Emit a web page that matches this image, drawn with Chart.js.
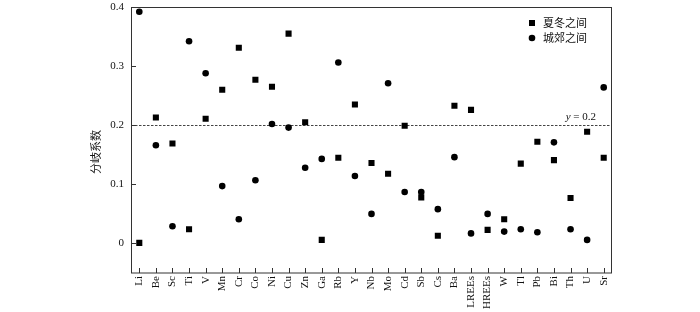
<!DOCTYPE html>
<html><head><meta charset="utf-8">
<script src="https://cdn.jsdelivr.net/npm/chart.js@4/dist/chart.umd.min.js"></script>
<style>html,body{margin:0;padding:0;background:#fff}canvas{display:block}</style>
</head><body>
<canvas id="c" width="700" height="312"></canvas>
<script>
const categories = ['Li','Be','Sc','Ti','V','Mn','Cr','Co','Ni','Cu','Zn','Ga','Rb','Y','Nb','Mo','Cd','Sb','Cs','Ba','LREEs','HREEs','W','Tl','Pb','Bi','Th','U','Sr'];
const summerWinter = [0.001,0.213,0.169,0.024,0.211,0.260,0.331,0.277,0.265,0.355,0.205,0.006,0.145,0.235,0.136,0.118,0.199,0.078,0.013,0.233,0.226,0.023,0.041,0.135,0.172,0.141,0.077,0.189,0.145];
const urbanSuburban = [0.392,0.166,0.029,0.342,0.288,0.097,0.041,0.107,0.202,0.196,0.128,0.143,0.306,0.114,0.050,0.271,0.087,0.087,0.058,0.146,0.017,0.050,0.020,0.024,0.019,0.171,0.024,0.006,0.264];
const yTicks = [0, 0.1, 0.2, 0.3, 0.4];
const refValue = 0.2;
const seriesNames = ['夏冬之间', '城郊之间'];
const yTitle = '分岐系数';

const serif = '"Liberation Serif", "DejaVu Serif", serif';
const cjk = '"Noto Sans CJK SC", sans-serif';
const ink = '#111';
const frame = '#333';

const decor = {
  id: 'decor',
  beforeDatasetsDraw(chart) {
    const {ctx, chartArea: a, scales: {x, y}} = chart;
    ctx.save();
    const py = Math.round(y.getPixelForValue(refValue)) + 0.5;
    ctx.strokeStyle = '#444';
    ctx.lineWidth = 1;
    ctx.setLineDash([2.5, 1.5]);
    ctx.beginPath(); ctx.moveTo(a.left, py); ctx.lineTo(a.right, py); ctx.stroke();
    ctx.setLineDash([]);
    ctx.fillStyle = ink;
    ctx.textBaseline = 'alphabetic';
    ctx.font = '11px ' + serif;
    const rest = ' = ' + refValue;
    const wRest = ctx.measureText(rest).width;
    ctx.fillText(rest, 596 - wRest, py - 6);
    ctx.font = 'italic 11px ' + serif;
    const wy = ctx.measureText('y').width;
    ctx.fillText('y', 596 - wRest - wy, py - 6);
    ctx.restore();
  },
  afterDraw(chart) {
    const {ctx, chartArea: a, scales: {x, y}} = chart;
    ctx.save();
    ctx.strokeStyle = frame;
    ctx.lineWidth = 1;
    ctx.strokeRect(Math.round(a.left) + 0.5, Math.round(a.top) + 0.5, Math.round(a.right - a.left) - 1, Math.round(a.bottom - a.top) - 0.5);
    ctx.beginPath();
    x.ticks.forEach((t, i) => {
      const px = Math.round(x.getPixelForTick(i)) + 0.5;
      ctx.moveTo(px, a.bottom); ctx.lineTo(px, a.bottom - 5);
    });
    y.ticks.forEach((t, i) => {
      const p = Math.round(y.getPixelForTick(i)) + 0.5;
      ctx.moveTo(a.left, p); ctx.lineTo(a.left + 5, p);
    });
    ctx.stroke();
    ctx.fillStyle = ink;
    ctx.font = '11px ' + cjk;
    ctx.textAlign = 'center';
    ctx.textBaseline = 'middle';
    ctx.translate(96, 152);
    ctx.rotate(-Math.PI / 2);
    ctx.fillText(yTitle, 0, 0);
    ctx.restore();
    ctx.save();
    ctx.fillStyle = '#000';
    chart.data.datasets.forEach((ds, i) => {
      const cy = 23 + i * 15;
      const cx = 532;
      ctx.beginPath();
      if (ds.pointStyle === 'rect') ctx.rect(cx - 3, cy - 3, 6, 6);
      else ctx.arc(cx, cy, 3.3, 0, Math.PI * 2);
      ctx.fill();
      ctx.fillStyle = ink;
      ctx.font = '11px ' + cjk;
      ctx.textBaseline = 'middle';
      ctx.fillText(ds.label, 543, cy);
      ctx.fillStyle = '#000';
    });
    ctx.restore();
  }
};

new Chart(document.getElementById('c'), {
  type: 'line',
  data: {
    labels: categories,
    datasets: [
      { label: seriesNames[0], data: summerWinter, showLine: false, pointStyle: 'rect', pointRadius: 4.3, pointHoverRadius: 4.3, backgroundColor: '#000', borderColor: '#000', borderWidth: 0 },
      { label: seriesNames[1], data: urbanSuburban, showLine: false, pointStyle: 'circle', pointRadius: 3.3, pointHoverRadius: 3.3, backgroundColor: '#000', borderColor: '#000', borderWidth: 0 }
    ]
  },
  options: {
    responsive: false,
    animation: false,
    devicePixelRatio: 1,
    layout: { padding: { left: 0, right: 88, top: 7, bottom: 0 } },
    plugins: { legend: { display: false }, tooltip: { enabled: false } },
    scales: {
      x: {
        type: 'category',
        offset: true,
        grid: { display: false, drawTicks: false },
        border: { display: false },
        ticks: { color: ink, font: { family: serif, size: 11 }, minRotation: 90, maxRotation: 90, padding: 3, autoSkip: false },
        afterFit: s => { s.height = 39; s.paddingLeft = 0; s.paddingRight = 0; }
      },
      y: {
        type: 'linear',
        min: -0.05, max: 0.4,
        grid: { display: false, drawTicks: false },
        border: { display: false },
        afterBuildTicks: s => { s.ticks = yTicks.map(v => ({ value: v })); },
        ticks: { color: ink, font: { family: serif, size: 11 }, padding: 7, callback: v => v === 0 ? '0' : v.toFixed(1) },
        afterFit: s => { s.width = 131; s.paddingTop = 0; s.paddingBottom = 0; }
      }
    }
  },
  plugins: [decor]
});
</script>
</body></html>
